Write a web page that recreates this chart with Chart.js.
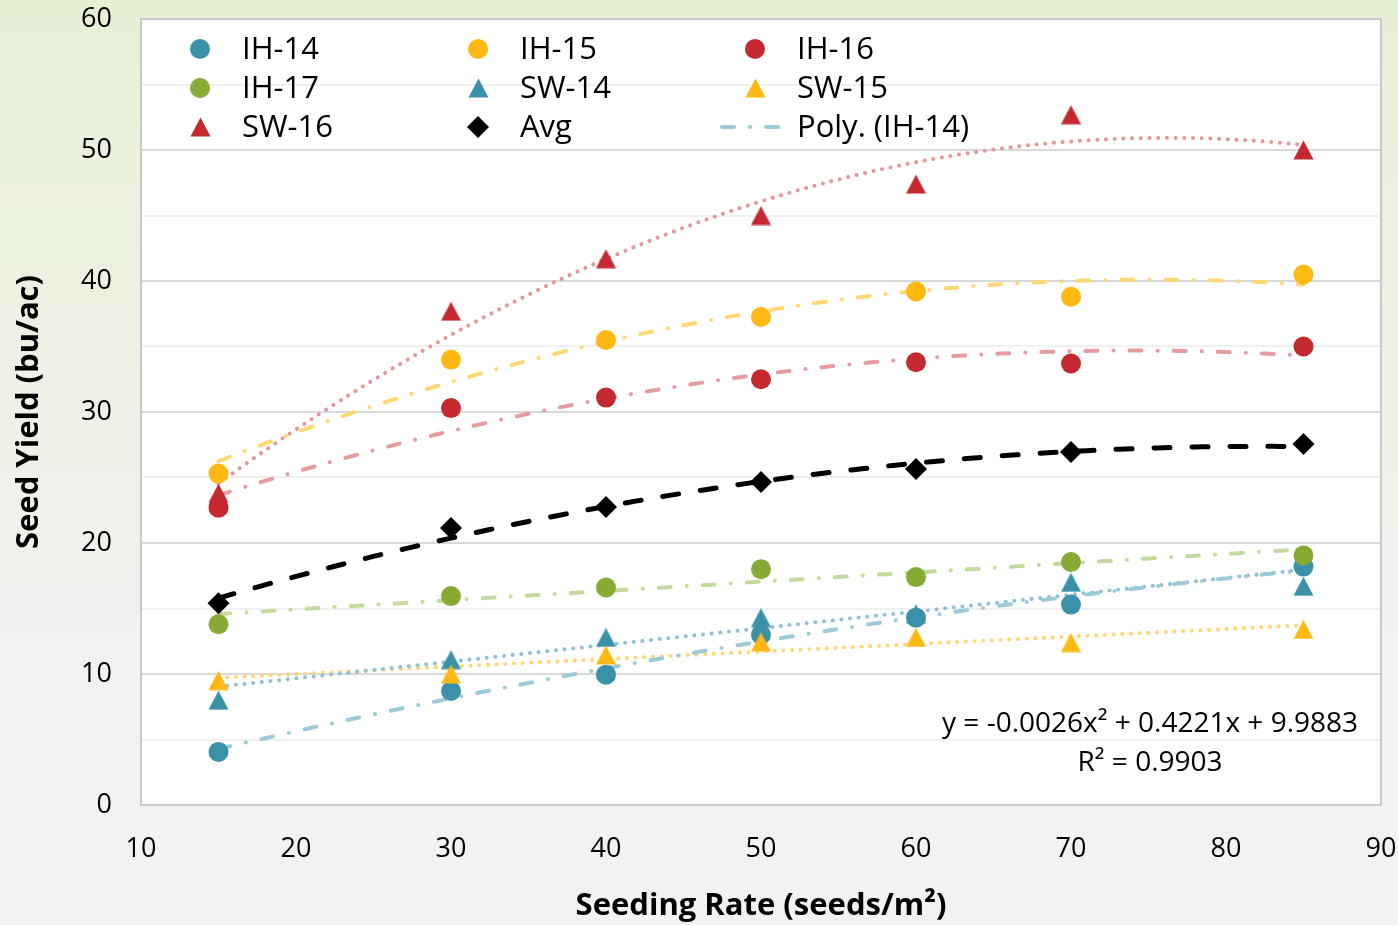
<!DOCTYPE html>
<html>
<head>
<meta charset="utf-8">
<title>Seed Yield vs Seeding Rate</title>
<script src="https://cdn.jsdelivr.net/npm/chart.js@4.4.1/dist/chart.umd.min.js"></script>
<style>
  html, body { margin: 0; padding: 0; }
  body {
    width: 1398px; height: 925px; overflow: hidden;
    background: linear-gradient(to bottom, #e7f0d5 0%, #edf1e5 40%, #f2f2f2 72%, #f2f2f2 100%);
  }
  #wrap { position: relative; width: 1398px; height: 925px; }
</style>
</head>
<body>
<div id="wrap"><canvas id="c" width="1398" height="925"></canvas></div>
<script>
// seeding rates (seeds/m2) and yields (bu/ac)
const rates = [15, 30, 40, 50, 60, 70, 85];
const ih14 = [4.05, 8.7, 9.95, 13.0, 14.3, 15.3, 18.2];
const ih15 = [25.3, 34.0, 35.5, 37.25, 39.2, 38.8, 40.5];
const ih16 = [22.7, 30.3, 31.1, 32.5, 33.8, 33.7, 35.0];
const ih17 = [13.8, 15.95, 16.6, 18.0, 17.4, 18.55, 19.05];
const sw14 = [8.0, 11.1, 12.8, 14.3, 14.6, 17.0, 16.7];
const sw15 = [9.5, 10.0, 11.45, 12.45, 12.8, 12.4, 13.4];
const sw16 = [23.8, 37.7, 41.7, 45.0, 47.4, 52.7, 50.0];
const avg = [15.4, 21.15, 22.75, 24.65, 25.65, 26.95, 27.55];

const yTicks = [0, 10, 20, 30, 40, 50, 60];
const xTicks = [10, 20, 30, 40, 50, 60, 70, 80, 90];
const eqLines = ['y = -0.0026x\u00b2 + 0.4221x + 9.9883', 'R\u00b2 = 0.9903'];
const legendOrder = ['IH-14', 'IH-15', 'IH-16', 'IH-17', 'SW-14', 'SW-15', 'SW-16', 'Avg', 'Poly. (IH-14)'];

const TEAL = '#3a91a8', GOLD = '#ffb912', RED = '#c3292e', GREEN = '#86aa34';

// triangle marker centred in its box (Excel style), used as an image point style
function triMarker(color) {
  const c = document.createElement('canvas');
  c.width = 21; c.height = 20;
  const g = c.getContext('2d');
  g.fillStyle = color;
  g.beginPath();
  g.moveTo(10.5, 0.5); g.lineTo(20.5, 19.5); g.lineTo(0.5, 19.5);
  g.closePath(); g.fill();
  return c;
}
const triTeal = triMarker(TEAL), triGold = triMarker(GOLD), triRed = triMarker(RED);

// least squares fit of given degree (1 = linear, 2 = polynomial), like the Excel trendlines
function polyFit(xs, ys, deg) {
  const n = deg + 1;
  const m = [];
  for (let i = 0; i < n; i++) {
    m.push([]);
    for (let j = 0; j < n; j++) m[i].push(xs.reduce((a, x) => a + Math.pow(x, i + j), 0));
    m[i].push(xs.reduce((a, x, k) => a + ys[k] * Math.pow(x, i), 0));
  }
  for (let i = 0; i < n; i++) {
    for (let j = i + 1; j < n; j++) {
      const f = m[j][i] / m[i][i];
      for (let k = i; k <= n; k++) m[j][k] -= f * m[i][k];
    }
  }
  const c = new Array(n).fill(0);
  for (let i = n - 1; i >= 0; i--) {
    let v = m[i][n];
    for (let k = i + 1; k < n; k++) v -= m[i][k] * c[k];
    c[i] = v / m[i][i];
  }
  return c;
}
function trendPoints(ys, deg) {
  const c = polyFit(rates, ys, deg), out = [];
  for (let x = rates[0]; x <= rates[rates.length - 1] + 1e-9; x += 0.5) {
    out.push({ x: x, y: c.reduce((a, ck, k) => a + ck * Math.pow(x, k), 0) });
  }
  return out;
}
function pts(ys) { return rates.map((x, i) => ({ x: x, y: ys[i] })); }

const DASHDOT = [12, 16, 0.1, 16];
const DOTS = [0.1, 8.6];

function series(label, ys, color, style, order) {
  const r = style === 'rectRot' ? 11 : 10;
  return {
    label: label, data: pts(ys), showLine: false, order: order,
    pointStyle: style, pointRadius: r, pointHoverRadius: r,
    pointBackgroundColor: color, pointBorderWidth: 0, pointBorderColor: color,
    markerColor: color, isImg: typeof style === 'object'
  };
}
function trend(label, ys, deg, color, dash, width) {
  return {
    label: label, data: trendPoints(ys, deg), showLine: true, order: 100,
    pointRadius: 0, borderColor: color, borderWidth: width || 4,
    borderDash: dash, borderCapStyle: 'round', fill: false, tension: 0
  };
}

const datasets = [
  series('IH-14', ih14, TEAL, 'circle', 20),
  series('IH-15', ih15, GOLD, 'circle', 19),
  series('IH-16', ih16, RED, 'circle', 18),
  series('IH-17', ih17, GREEN, 'circle', 17),
  series('SW-14', sw14, TEAL, triTeal, 16),
  series('SW-15', sw15, GOLD, triGold, 15),
  series('SW-16', sw16, RED, triRed, 14),
  series('Avg', avg, '#000000', 'rectRot', 13),
  trend('Poly. (IH-14)', ih14, 2, '#9ccad7', DASHDOT),
  trend('trend IH-15', ih15, 2, '#ffd873', DASHDOT),
  trend('trend IH-16', ih16, 2, '#e49c9e', DASHDOT),
  trend('trend IH-17', ih17, 1, '#c4d99c', DASHDOT),
  trend('trend SW-14', sw14, 1, '#8ec1d1', DOTS),
  trend('trend SW-15', sw15, 1, '#ffd873', DOTS),
  trend('trend SW-16', sw16, 2, '#e39799', DOTS),
  trend('trend Avg', avg, 2, '#000000', [16, 22], 5)
];

function drawMarker(ctx, ds, x, y) {
  ctx.fillStyle = ds.markerColor;
  if (ds.isImg) {
    ctx.drawImage(ds.pointStyle, Math.round(x - ds.pointStyle.width / 2), Math.round(y - ds.pointStyle.height / 2));
  } else if (ds.pointStyle === 'rectRot') {
    const r = ds.pointRadius;
    ctx.beginPath();
    ctx.moveTo(x, y - r); ctx.lineTo(x + r, y); ctx.lineTo(x, y + r); ctx.lineTo(x - r, y);
    ctx.closePath(); ctx.fill();
  } else {
    ctx.beginPath(); ctx.arc(x, y, ds.pointRadius, 0, Math.PI * 2); ctx.fill();
  }
}

// white plot area + grey frame under the marks
const plotFrame = {
  id: 'plotFrame',
  beforeDraw(chart) {
    const a = chart.chartArea, ctx = chart.ctx;
    ctx.save();
    ctx.fillStyle = '#ffffff';
    ctx.fillRect(a.left, a.top, a.right - a.left, a.bottom - a.top);
    ctx.restore();
  },
  beforeDatasetsDraw(chart) {
    const a = chart.chartArea, ctx = chart.ctx;
    ctx.save();
    ctx.strokeStyle = '#c9c9c9';
    ctx.lineWidth = 2;
    ctx.strokeRect(a.left, a.top, a.right - a.left, a.bottom - a.top);
    ctx.restore();
  }
};

// three-column legend inside the plot, Excel style
const cornerLegend = {
  id: 'cornerLegend',
  afterDraw(chart) {
    const a = chart.chartArea, ctx = chart.ctx;
    const colX = [59, 337, 614], rowY = [30, 69, 108];
    ctx.save();
    ctx.font = '31px "Open Sans"';
    ctx.textBaseline = 'middle';
    legendOrder.forEach((name, i) => {
      const ds = chart.data.datasets.find(d => d.label === name);
      const mx = a.left + colX[i % 3], my = a.top + rowY[Math.floor(i / 3)];
      if (ds.showLine) {
        ctx.strokeStyle = ds.borderColor;
        ctx.lineWidth = ds.borderWidth;
        ctx.lineCap = 'round';
        ctx.setLineDash(ds.borderDash);
        ctx.beginPath();
        ctx.moveTo(mx - 33, my); ctx.lineTo(mx + 27, my);
        ctx.stroke();
        ctx.setLineDash([]);
      } else {
        drawMarker(ctx, ds, mx, my);
      }
      ctx.fillStyle = '#000';
      ctx.fillText(name, mx + 42, my + 1);
    });
    ctx.restore();
  }
};

// trendline equation box (average series)
const eqLabel = {
  id: 'eqLabel',
  afterDraw(chart) {
    const xs = chart.scales.x, ys = chart.scales.y, ctx = chart.ctx;
    ctx.save();
    ctx.font = '28px "Open Sans"';
    ctx.fillStyle = '#000';
    ctx.textAlign = 'center';
    ctx.textBaseline = 'middle';
    ctx.fillText(eqLines[0], xs.getPixelForValue(75.1), ys.getPixelForValue(6.2));
    ctx.fillText(eqLines[1], xs.getPixelForValue(75.1), ys.getPixelForValue(3.2));
    ctx.restore();
  }
};

const tickFont = { family: '"Open Sans"', size: 27 };
const titleFont = { family: '"Open Sans"', size: 31, weight: 'bold' };

new Chart(document.getElementById('c'), {
  type: 'scatter',
  data: { datasets: datasets },
  options: {
    responsive: false,
    animation: false,
    events: [],
    layout: { padding: 0 },
    plugins: { legend: { display: false }, tooltip: { enabled: false } },
    scales: {
      x: {
        type: 'linear', min: xTicks[0], max: xTicks[xTicks.length - 1],
        afterBuildTicks: s => { s.ticks = xTicks.map(v => ({ value: v })); },
        afterFit: s => { s.height = 120; s.paddingLeft = 0; s.paddingRight = 17; },
        grid: { display: false, drawTicks: false },
        border: { display: false },
        ticks: { font: tickFont, color: '#000', padding: 28, maxRotation: 0 },
        title: { display: true, text: 'Seeding Rate (seeds/m\u00b2)', font: titleFont, color: '#000', padding: { top: 0, bottom: 0 } }
      },
      y: {
        type: 'linear', min: yTicks[0], max: yTicks[yTicks.length - 1],
        ticks: {
          stepSize: 5, font: tickFont, color: '#000', padding: 29,
          callback: v => (yTicks.indexOf(v) >= 0 ? String(v) : '')
        },
        afterFit: s => { s.width = 141; s.paddingTop = 19; s.paddingBottom = 0; },
        grid: {
          drawTicks: false, lineWidth: 2,
          color: c => (c.tick && c.tick.value % 10 === 0 ? '#d9d9d9' : '#f0f0f0')
        },
        border: { display: false },
        title: { display: true, text: 'Seed Yield (bu/ac)', font: titleFont, color: '#000', padding: { top: 11, bottom: 0 } }
      }
    }
  },
  plugins: [plotFrame, cornerLegend, eqLabel]
});
</script>
</body>
</html>
